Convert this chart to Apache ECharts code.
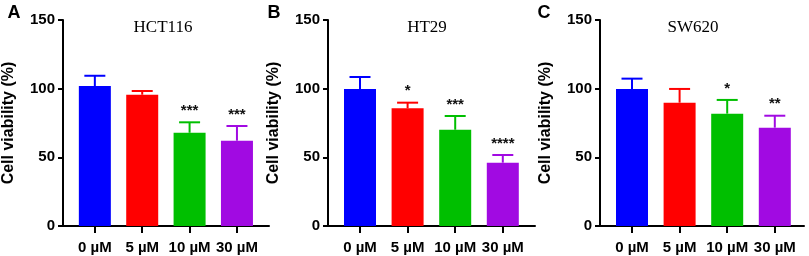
<!DOCTYPE html>
<html>
<head>
<meta charset="utf-8">
<script src="https://cdn.jsdelivr.net/npm/echarts@6/dist/echarts.min.js"></script>
<style>
  html, body { margin: 0; padding: 0; background: #fff; }
  #chart { width: 809px; height: 256px; }
</style>
</head>
<body>
<div id="chart"></div>
<script>
// doses on the x axis
const doses = ['0 µM', '5 µM', '10 µM', '30 µM']
const yTicks = [0, 50, 100, 150]

// mean viability (%) and upper error (SD) per cell line
const hct116Mean = [101.9, 95.6, 67.9, 62.1]
const hct116Err = [7.5, 2.7, 7.6, 10.7]
const hct116Sig = ['', '', '***', '***']

const ht29Mean = [99.8, 85.7, 70.1, 46.1]
const ht29Err = [8.7, 4.1, 10.0, 5.6]
const ht29Sig = ['', '*', '***', '****']

const sw620Mean = [99.8, 89.8, 81.8, 71.6]
const sw620Err = [7.5, 10.0, 10.0, 8.7]
const sw620Sig = ['', '', '*', '**']

const panels = [
	{ letter: 'A', name: 'HCT116', mean: hct116Mean, err: hct116Err, sig: hct116Sig },
	{ letter: 'B', name: 'HT29', mean: ht29Mean, err: ht29Err, sig: ht29Sig },
	{ letter: 'C', name: 'SW620', mean: sw620Mean, err: sw620Err, sig: sw620Sig }
]

const barColors = ['#0000ff', '#ff0000', '#00bf00', '#a10ae2']
const sans = 'Arial, "Liberation Sans", sans-serif'
const serif = '"Times New Roman", "Liberation Serif", serif'

// layout of each panel (px)
const gridLeft = [62, 328, 600]
const gridWidth = [207, 207, 204]
const firstTick = 32, step = 47.6

let grids = [], xAxes = [], yAxes = [], series = [], graphics = []

panels.forEach((p, k) => {
	grids.push({ left: gridLeft[k], top: 20, width: gridWidth[k], height: 206 })

	xAxes.push({
		gridIndex: k,
		type: 'value',
		min: -firstTick / step,
		max: (gridWidth[k] - firstTick) / step,
		splitLine: { show: false },
		axisLine: { show: true, onZero: false, lineStyle: { color: '#000', width: 2 } },
		axisTick: { show: true, customValues: [0, 1, 2, 3], length: 7, lineStyle: { color: '#000', width: 2 } },
		axisLabel: {
			customValues: [0, 1, 2, 3],
			formatter: v => doses[Math.round(v)],
			margin: 14,
			color: '#000',
			fontFamily: sans,
			fontWeight: 'bold',
			fontSize: 15
		}
	})

	yAxes.push({
		gridIndex: k,
		type: 'value',
		min: 0,
		max: 150,
		interval: 50,
		name: 'Cell viability (%)',
		nameLocation: 'middle',
		nameGap: 46,
		nameTextStyle: { color: '#000', fontFamily: sans, fontWeight: 'bold', fontSize: 16 },
		splitLine: { show: false },
		axisLine: { show: true, onZero: false, lineStyle: { color: '#000', width: 2 } },
		axisTick: { show: true, length: 5, lineStyle: { color: '#000', width: 2 } },
		axisLabel: {
			margin: 8,
			color: '#000',
			fontFamily: sans,
			fontWeight: 'bold',
			fontSize: 15,
			formatter: v => yTicks.indexOf(v) >= 0 ? String(v) : ''
		}
	})

	series.push({
		type: 'bar',
		xAxisIndex: k,
		yAxisIndex: k,
		barWidth: 32,
		data: p.mean.map((m, i) => ({ value: [i, m], itemStyle: { color: barColors[i] } })),
		z: 2
	})

	// upper error bars + significance stars
	series.push({
		type: 'custom',
		xAxisIndex: k,
		yAxisIndex: k,
		z: 3,
		data: p.mean.map((m, i) => [i, m, m + p.err[i]]),
		renderItem: (params, api) => {
			const i = api.value(0)
			const base = api.coord([i, api.value(1)])
			const top = api.coord([i, api.value(2)])
			const c = barColors[i]
			const st = { stroke: c, lineWidth: 2 }
			return {
				type: 'group',
				children: [
					{ type: 'line', shape: { x1: top[0], y1: base[1], x2: top[0], y2: top[1] }, style: st },
					{ type: 'line', shape: { x1: top[0] - 10.5, y1: top[1], x2: top[0] + 10.5, y2: top[1] }, style: st },
					{
						type: 'text',
						style: {
							text: p.sig[i],
							x: top[0],
							y: top[1] - 4,
							align: 'center',
							verticalAlign: 'bottom',
							fill: '#111',
							font: 'bold 15px ' + sans
						}
					}
				]
			}
		}
	})
})

// panel titles and letters
const titleX = [163, 427, 693]
const letterX = [14, 274, 544]
panels.forEach((p, k) => {
	graphics.push({
		type: 'text',
		style: { text: p.name, x: titleX[k], y: 19, align: 'center', verticalAlign: 'top', fill: '#000', font: '17px ' + serif }
	})
	graphics.push({
		type: 'text',
		style: { text: p.letter, x: letterX[k], y: 4, align: 'center', verticalAlign: 'top', fill: '#000', font: 'bold 18px ' + sans }
	})
})

const myCharts = echarts.init(document.getElementById('chart'))
myCharts.setOption({
	animation: false,
	backgroundColor: '#fff',
	grid: grids,
	xAxis: xAxes,
	yAxis: yAxes,
	series: series,
	graphic: graphics
})
</script>
</body>
</html>
